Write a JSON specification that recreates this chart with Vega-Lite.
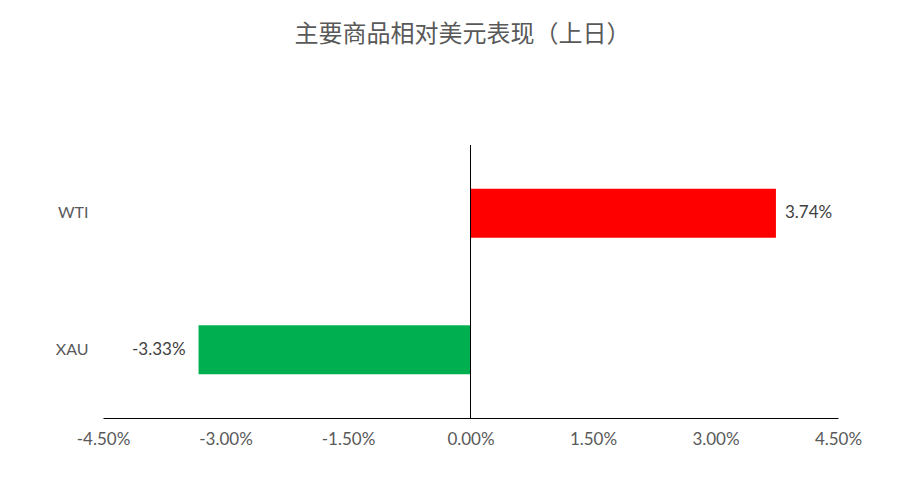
{
  "$schema": "https://vega.github.io/schema/vega-lite/v6.json",
  "width": 735,
  "height": 273,
  "autosize": "none",
  "padding": {"left": 103, "top": 145, "right": 62, "bottom": 84},
  "background": "white",
  "config": {
    "view": {"stroke": null},
    "locale": {"number": {"decimal": ".", "thousands": ",", "grouping": [3], "currency": ["$", ""], "minus": "-"}}
  },
  "title": {
    "text": "主要商品相对美元表现（上日）",
    "font": "Noto Sans CJK SC",
    "fontSize": 24,
    "fontWeight": "normal",
    "color": "#595959",
    "anchor": "middle",
    "dx": -8,
    "offset": 98
  },
  "data": {
    "values": [
      {"asset": "WTI", "change": 0.0374},
      {"asset": "XAU", "change": -0.0333}
    ]
  },
  "encoding": {
    "y": {
      "field": "asset",
      "type": "nominal",
      "sort": ["WTI", "XAU"],
      "scale": {"paddingInner": 0.64, "paddingOuter": 0.32},
      "axis": {
        "title": null,
        "domain": false,
        "ticks": false,
        "labelFont": "Lato",
        "labelFontSize": 16,
        "labelFontWeight": "normal",
        "labelColor": "#595959",
        "labelPadding": 15
      }
    }
  },
  "layer": [
    {
      "mark": {"type": "bar"},
      "encoding": {
        "x": {
          "field": "change",
          "type": "quantitative",
          "scale": {"domain": [-0.045, 0.045], "nice": false},
          "axis": {
            "title": null,
            "format": ".2%",
            "values": [-0.045, -0.03, -0.015, 0, 0.015, 0.03, 0.045],
            "grid": false,
            "ticks": false,
            "domainColor": "#000000",
            "domainWidth": 1,
            "labelFont": "Lato",
            "labelFontSize": 17,
            "labelFontWeight": "normal",
            "labelColor": "#595959",
            "labelPadding": 13,
            "labelFlush": false
          }
        },
        "x2": {"datum": 0},
        "color": {
          "field": "asset",
          "type": "nominal",
          "scale": {"domain": ["WTI", "XAU"], "range": ["#FF0000", "#00B050"]},
          "legend": null
        }
      }
    },
    {
      "transform": [{"filter": "datum.change >= 0"}],
      "mark": {"type": "text", "align": "left", "dx": 9, "font": "Lato", "fontSize": 17, "color": "#404040"},
      "encoding": {
        "x": {"field": "change", "type": "quantitative"},
        "text": {"field": "change", "type": "quantitative", "format": ".2%"}
      }
    },
    {
      "transform": [{"filter": "datum.change < 0"}],
      "mark": {"type": "text", "align": "right", "dx": -13, "font": "Lato", "fontSize": 17, "color": "#404040"},
      "encoding": {
        "x": {"field": "change", "type": "quantitative"},
        "text": {"field": "change", "type": "quantitative", "format": ".2%"}
      }
    },
    {
      "data": {"values": [{"zero": 0}]},
      "mark": {"type": "rule", "color": "#000000", "strokeWidth": 1},
      "encoding": {
        "x": {"field": "zero", "type": "quantitative"},
        "y": {"value": 0},
        "y2": {"value": 273}
      }
    }
  ]
}
